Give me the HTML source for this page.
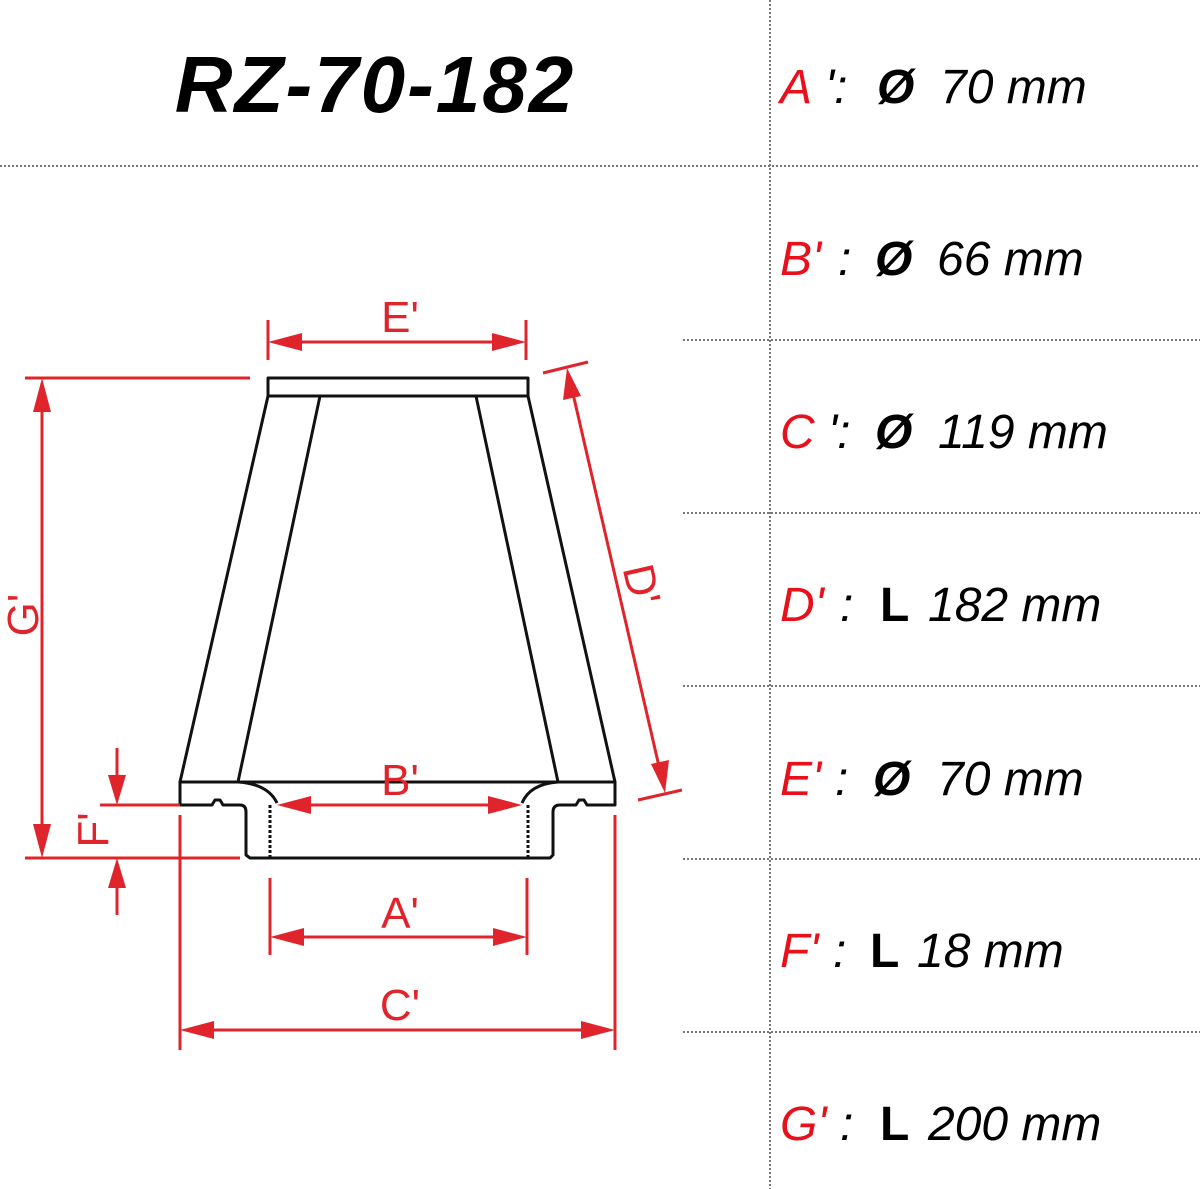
<!DOCTYPE html>
<html><head><meta charset="utf-8"><style>
html,body{margin:0;padding:0;background:#fff;}
svg{display:block;}
</style></head><body>
<svg width="1200" height="1189" viewBox="0 0 1200 1189" xmlns="http://www.w3.org/2000/svg">
<g stroke="#777" stroke-width="2" stroke-dasharray="2,2">
<line x1="770" y1="0" x2="770" y2="1189"/>
<line x1="0" y1="166" x2="1200" y2="166"/>
<line x1="683" y1="340" x2="1200" y2="340"/>
<line x1="683" y1="513" x2="1200" y2="513"/>
<line x1="683" y1="686" x2="1200" y2="686"/>
<line x1="683" y1="859" x2="1200" y2="859"/>
<line x1="683" y1="1032" x2="1200" y2="1032"/>
</g>
<text x="375" y="112" text-anchor="middle" font-family="Liberation Sans, sans-serif" font-weight="bold" font-style="italic" font-size="80" letter-spacing="2" fill="#000">RZ-70-182</text>
<g font-family="Liberation Sans, sans-serif" font-style="italic" font-size="48" fill="#000">
<text y="103"><tspan x="780" fill="#e8101a">A</tspan><tspan x="825">':</tspan><tspan x="877" font-weight="bold">Ø</tspan><tspan x="940">70 mm</tspan></text>
<text y="275"><tspan x="780" fill="#e8101a">B'</tspan><tspan x="838">:</tspan><tspan x="875" font-weight="bold">Ø</tspan><tspan x="937">66 mm</tspan></text>
<text y="448"><tspan x="780" fill="#e8101a">C</tspan><tspan x="828">':</tspan><tspan x="875" font-weight="bold">Ø</tspan><tspan x="938">119 mm</tspan></text>
<text y="621"><tspan x="780" fill="#e8101a">D'</tspan><tspan x="840">:</tspan><tspan x="880" font-weight="bold" font-style="normal">L</tspan><tspan x="928">182 mm</tspan></text>
<text y="795"><tspan x="780" fill="#e8101a">E'</tspan><tspan x="835">:</tspan><tspan x="873" font-weight="bold">Ø</tspan><tspan x="937">70 mm</tspan></text>
<text y="967"><tspan x="780" fill="#e8101a">F'</tspan><tspan x="833">:</tspan><tspan x="870" font-weight="bold" font-style="normal">L</tspan><tspan x="917">18 mm</tspan></text>
<text y="1140"><tspan x="780" fill="#e8101a">G'</tspan><tspan x="840">:</tspan><tspan x="880" font-weight="bold" font-style="normal">L</tspan><tspan x="928">200 mm</tspan></text>
</g>
<g fill="none" stroke="#111" stroke-width="3" stroke-linejoin="round">
<rect x="268" y="378" width="260" height="18"/>
<line x1="268" y1="396" x2="180" y2="782"/>
<line x1="320" y1="396" x2="238" y2="782"/>
<line x1="528" y1="396" x2="615" y2="782"/>
<line x1="476" y1="396" x2="558" y2="782"/>
<path d="M180 782 L180 805 L212 805 L215 800 L220 800 L223 805 L240 805 Q246 805 246 812 L246 855 L250 858 L550 858 L553 855 L553 812 Q553 805 560 805 L576 805 L579 800 L584 800 L587 805 L615 805 L615 782 Z"/>
<path d="M180 782 L238 782 Q268 784 277 803"/>
<path d="M615 782 L558 782 Q530 784 522 803"/>
<line x1="270" y1="805" x2="270" y2="858" stroke-dasharray="3,2"/>
<line x1="528" y1="805" x2="528" y2="858" stroke-dasharray="3,2"/>
</g>
<g stroke="#e0242c" stroke-width="3" fill="none">
<line x1="268" y1="320" x2="268" y2="360"/><line x1="526" y1="320" x2="526" y2="360"/>
<line x1="285" y1="342" x2="510" y2="342"/>
<line x1="25" y1="378" x2="250" y2="378"/><line x1="25" y1="858" x2="240" y2="858"/>
<line x1="42" y1="400" x2="42" y2="836"/>
<line x1="117" y1="748" x2="117" y2="785"/><line x1="117" y1="878" x2="117" y2="915"/>
<line x1="100" y1="805" x2="180" y2="805"/>
<line x1="571" y1="385" x2="661" y2="775"/>
<line x1="543" y1="373" x2="588" y2="362"/><line x1="638" y1="800" x2="682" y2="790"/>
<line x1="295" y1="805" x2="505" y2="805"/>
<line x1="270" y1="878" x2="270" y2="955"/><line x1="527" y1="878" x2="527" y2="955"/>
<line x1="290" y1="937" x2="507" y2="937"/>
<line x1="180" y1="815" x2="180" y2="1050"/><line x1="615" y1="815" x2="615" y2="1050"/>
<line x1="200" y1="1030" x2="595" y2="1030"/>
</g>
<g fill="#e0242c">
<polygon points="268,342 302,333 302,351"/><polygon points="526,342 492,333 492,351"/>
<polygon points="42,378 33,412 51,412"/><polygon points="42,858 33,824 51,824"/>
<polygon points="117,805 108,775 126,775"/><polygon points="117,858 108,888 126,888"/>
<polygon points="567,368 563,400 581,396"/><polygon points="665,793 651,764 669,760"/>
<polygon points="277,805 311,796 311,814"/><polygon points="522,805 488,796 488,814"/>
<polygon points="270,937 304,928 304,946"/><polygon points="527,937 493,928 493,946"/>
<polygon points="180,1030 214,1021 214,1039"/><polygon points="615,1030 581,1021 581,1039"/>
</g>
<g font-family="Liberation Sans, sans-serif" font-size="44" fill="#e0242c" text-anchor="middle">
<text x="400" y="332">E'</text>
<text x="400" y="795">B'</text>
<text x="400" y="928">A'</text>
<text x="400" y="1020">C'</text>
<text transform="translate(38,615) rotate(-90)">G'</text>
<text transform="translate(108,830) rotate(-90)">F'</text>
<text transform="translate(627,588) rotate(77)">D'</text>
</g>
</svg>
</body></html>
